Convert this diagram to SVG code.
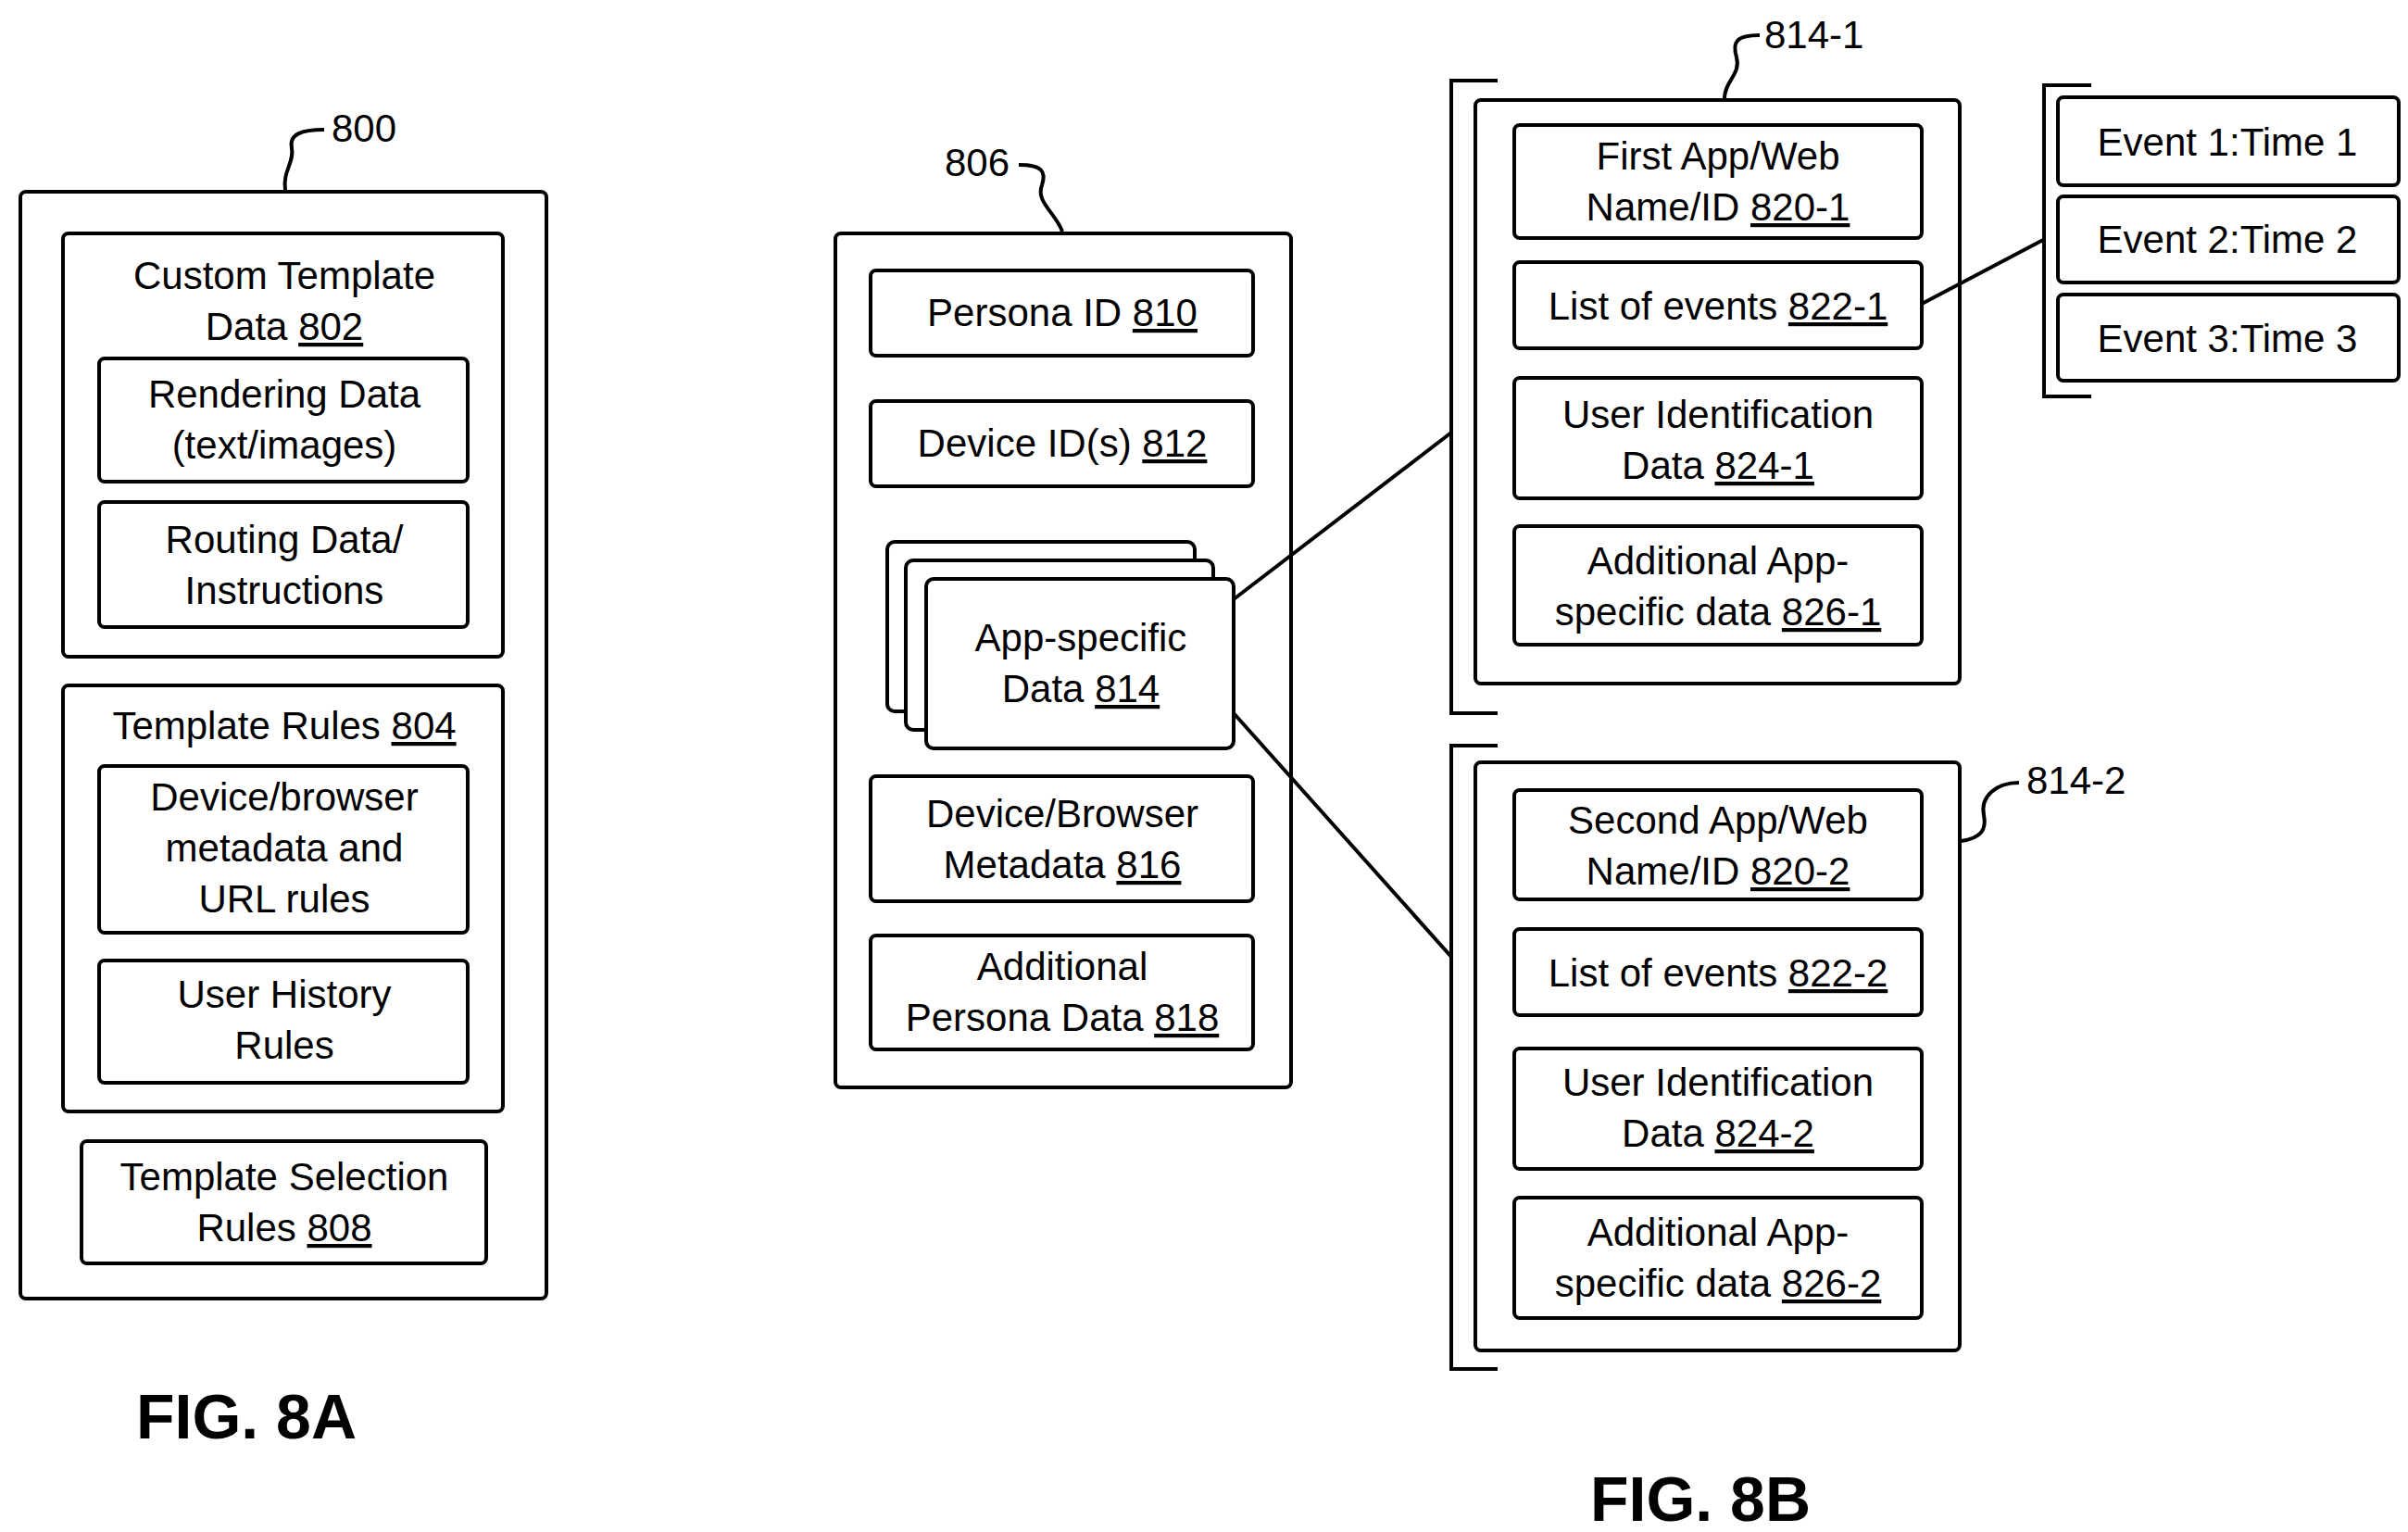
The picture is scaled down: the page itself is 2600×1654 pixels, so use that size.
<svg xmlns="http://www.w3.org/2000/svg" width="2600" height="1654" viewBox="0 0 2600 1654">
<style>
.b{fill:#fff;stroke:#000;stroke-width:4}
.l{fill:none;stroke:#000;stroke-width:4}
text{font-family:"Liberation Sans",Arial,sans-serif;font-size:42px;fill:#000;text-anchor:middle}
.u{text-decoration:underline}
.fig{font-size:68px;font-weight:bold;text-anchor:start}
.lab{text-anchor:start}
</style>
<rect width="2600" height="1654" fill="#fff"/>
<g id="n800">
<rect class="b" x="22" y="207" width="568" height="1195" rx="6"/>
<path class="l" d="M308,205 C305,185 318,175 315,160 C312,145 325,140 350,140"/>
<text class="lab" x="358" y="153">800</text>
</g>
<g id="n802">
<rect class="b" x="68" y="252" width="475" height="457" rx="6"/>
<text x="307" y="312">Custom Template</text>
<text x="307" y="367">Data <tspan class="u">802</tspan></text>
</g>
<g id="nRender"><rect class="b" x="107" y="387" width="398" height="133" rx="6"/>
<text x="307" y="440">Rendering Data</text><text x="307" y="495">(text/images)</text></g>
<g id="nRouting"><rect class="b" x="107" y="542" width="398" height="135" rx="6"/>
<text x="307" y="597">Routing Data/</text><text x="307" y="652">Instructions</text></g>
<g id="n804"><rect class="b" x="68" y="740" width="475" height="460" rx="6"/>
<text x="307" y="798">Template Rules <tspan class="u">804</tspan></text></g>
<g id="nDevRules"><rect class="b" x="107" y="827" width="398" height="180" rx="6"/>
<text x="307" y="875">Device/browser</text><text x="307" y="930">metadata and</text><text x="307" y="985">URL rules</text></g>
<g id="nHist"><rect class="b" x="107" y="1037" width="398" height="132" rx="6"/>
<text x="307" y="1088">User History</text><text x="307" y="1143">Rules</text></g>
<g id="n808"><rect class="b" x="88" y="1232" width="437" height="132" rx="6"/>
<text x="307" y="1285">Template Selection</text><text x="307" y="1340">Rules <tspan class="u">808</tspan></text></g>
<text class="fig" x="147" y="1553">FIG. 8A</text>

<g id="n806"><rect class="b" x="902" y="252" width="492" height="922" rx="6"/>
<text class="lab" x="1020" y="190">806</text>
<path class="l" d="M1100,178 C1125,178 1130,185 1125,200 C1118,218 1140,230 1147,250"/></g>
<g id="n810"><rect class="b" x="940" y="292" width="413" height="92" rx="6"/>
<text x="1147" y="352">Persona ID <tspan class="u">810</tspan></text></g>
<g id="n812"><rect class="b" x="940" y="433" width="413" height="92" rx="6"/>
<text x="1147" y="493">Device ID(s) <tspan class="u">812</tspan></text></g>
<g id="n814"><rect class="b" x="958" y="585" width="332" height="183" rx="8"/>
<rect class="b" x="978" y="605" width="332" height="183" rx="8"/>
<rect class="b" x="1000" y="625" width="332" height="183" rx="8"/>
<text x="1167" y="703">App-specific</text><text x="1167" y="758">Data <tspan class="u">814</tspan></text></g>
<g id="n816"><rect class="b" x="940" y="838" width="413" height="135" rx="6"/>
<text x="1147" y="893">Device/Browser</text><text x="1147" y="948">Metadata <tspan class="u">816</tspan></text></g>
<g id="n818"><rect class="b" x="940" y="1010" width="413" height="123" rx="6"/>
<text x="1147" y="1058">Additional</text><text x="1147" y="1113">Persona Data <tspan class="u">818</tspan></text></g>

<g id="n814-1">
<path class="l" d="M1617,87 H1567 V770 H1617"/>
<rect class="b" x="1593" y="108" width="523" height="630" rx="6"/>
<text class="lab" x="1905" y="52">814-1</text>
<path class="l" d="M1900,38 C1875,38 1870,45 1875,62 C1880,80 1862,88 1862,106"/>
</g>
<g id="n820-1"><rect class="b" x="1635" y="135" width="440" height="122" rx="6"/>
<text x="1855" y="183">First App/Web</text><text x="1855" y="238">Name/ID <tspan class="u">820-1</tspan></text></g>
<g id="n822-1"><rect class="b" x="1635" y="283" width="440" height="93" rx="6"/>
<text x="1855" y="345">List of events <tspan class="u">822-1</tspan></text></g>
<g id="n824-1"><rect class="b" x="1635" y="408" width="440" height="130" rx="6"/>
<text x="1855" y="462">User Identification</text><text x="1855" y="517">Data <tspan class="u">824-1</tspan></text></g>
<g id="n826-1"><rect class="b" x="1635" y="568" width="440" height="128" rx="6"/>
<text x="1855" y="620">Additional App-</text><text x="1855" y="675">specific data <tspan class="u">826-1</tspan></text></g>

<g id="nEvents">
<path class="l" d="M2258,92 H2207 V428 H2258"/>
<rect class="b" x="2222" y="105" width="368" height="95" rx="6"/>
<text x="2405" y="168">Event 1:Time 1</text>
<rect class="b" x="2222" y="212" width="368" height="93" rx="6"/>
<text x="2405" y="273">Event 2:Time 2</text>
<rect class="b" x="2222" y="318" width="368" height="93" rx="6"/>
<text x="2405" y="380">Event 3:Time 3</text>
</g>

<g id="n814-2">
<path class="l" d="M1617,805 H1567 V1478 H1617"/>
<rect class="b" x="1593" y="823" width="523" height="635" rx="6"/>
<text class="lab" x="2188" y="857">814-2</text>
<path class="l" d="M2117,908 C2140,905 2145,895 2142,880 C2138,860 2155,845 2180,845"/>
</g>
<g id="n820-2"><rect class="b" x="1635" y="853" width="440" height="118" rx="6"/>
<text x="1855" y="900">Second App/Web</text><text x="1855" y="955">Name/ID <tspan class="u">820-2</tspan></text></g>
<g id="n822-2"><rect class="b" x="1635" y="1003" width="440" height="93" rx="6"/>
<text x="1855" y="1065">List of events <tspan class="u">822-2</tspan></text></g>
<g id="n824-2"><rect class="b" x="1635" y="1132" width="440" height="130" rx="6"/>
<text x="1855" y="1183">User Identification</text><text x="1855" y="1238">Data <tspan class="u">824-2</tspan></text></g>
<g id="n826-2"><rect class="b" x="1635" y="1293" width="440" height="130" rx="6"/>
<text x="1855" y="1345">Additional App-</text><text x="1855" y="1400">specific data <tspan class="u">826-2</tspan></text></g>

<g id="connectors">
<line class="l" x1="1332" y1="647" x2="1567" y2="467"/>
<line class="l" x1="1332" y1="770" x2="1567" y2="1033"/>
<line class="l" x1="2075" y1="328" x2="2208" y2="258"/>
</g>
<text class="fig" x="1717" y="1642">FIG. 8B</text>
</svg>
